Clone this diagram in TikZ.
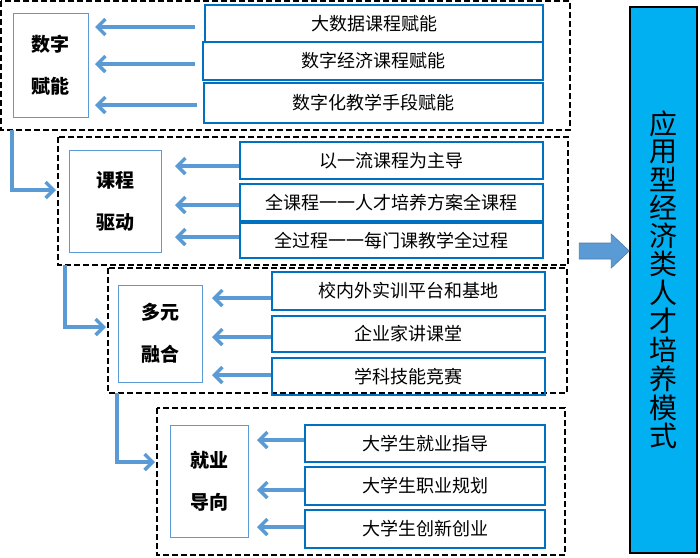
\documentclass[tikz,border=0pt]{standalone}
\usepackage{fontspec}
\setmainfont{Noto Sans CJK SC}
\usetikzlibrary{arrows.meta}
\definecolor{ab}{RGB}{91,155,213}
\definecolor{db}{RGB}{0,112,192}
\definecolor{cy}{RGB}{0,176,240}
\begin{document}
\begin{tikzpicture}[x=1pt,y=-1pt,
 grp/.style={draw,line width=1.3pt,dash pattern=on 6pt off 3pt},
 lab/.style={draw=ab,line width=1pt,font=\fontsize{19}{24}\selectfont\bfseries,align=center},
 itm/.style={draw=db,line width=2pt,font=\fontsize{18}{20}\selectfont},
 arr/.style={draw=ab,line width=3.5pt,-{Straight Barb[length=8pt,width=16pt]}},
 lk/.style={draw=ab,line width=3.5pt,-{Straight Barb[length=8pt,width=16pt]}}]
\useasboundingbox (0,0) rectangle (700,557);
% group 1
\draw[grp] (1,1) rectangle (570,130);
\node[lab,minimum width=75pt,minimum height=104pt] (l1) at (50.5,65) {数字\\[18pt]赋能};
\node[itm,minimum width=338pt,minimum height=37pt] (a1) at (374,23.5) {大数据课程赋能};
\node[itm,minimum width=340pt,minimum height=38pt] (a2) at (373,61) {数字经济课程赋能};
\node[itm,minimum width=339pt,minimum height=40pt] (a3) at (373.5,103) {数字化教学手段赋能};
\coordinate (p1) at (95,27); \coordinate (p2) at (95,64); \coordinate (p3) at (95,105);
\draw[arr] (195,27) -- (p1); \draw[arr] (195,64) -- (p2); \draw[arr] (197,105) -- (p3);
% group 2
\draw[grp] (58,137) rectangle (568,265);
\node[lab,minimum width=92pt,minimum height=102pt] (l2) at (115,201) {课程\\[18pt]驱动};
\node[itm,minimum width=303pt,minimum height=37pt] (b1) at (391.5,160.5) {以一流课程为主导};
\node[itm,minimum width=303pt,minimum height=37pt] (b2) at (391.5,202.5) {全课程一一人才培养方案全课程};
\node[itm,minimum width=303pt,minimum height=35pt] (b3) at (391.5,240.5) {全过程一一每门课教学全过程};
\draw[arr] (b1.west|-0,166) -- (175,166);
\draw[arr] (b2.west|-0,205) -- (175,205);
\draw[arr] (b3.west|-0,237) -- (175,237);
% group 3
\draw[grp] (108,268) rectangle (567,393);
\node[lab,minimum width=84pt,minimum height=97pt] (l3) at (160,333.5) {多元\\[18pt]融合};
\node[itm,minimum width=273pt,minimum height=38pt] (c1) at (408.5,291) {校内外实训平台和基地};
\node[itm,minimum width=273pt,minimum height=36pt] (c2) at (408.5,334) {企业家讲课堂};
\node[itm,minimum width=273pt,minimum height=37pt] (c3) at (408.5,376.5) {学科技能竞赛};
\draw[arr] (c1.west|-0,298) -- (212,298);
\draw[arr] (c2.west|-0,337) -- (212,337);
\draw[arr] (c3.west|-0,375) -- (212,375);
% group 4
\draw[grp] (157,408) rectangle (565,555);
\node[lab,minimum width=78pt,minimum height=112pt] (l4) at (209,481) {就业\\[18pt]导向};
\node[itm,minimum width=240pt,minimum height=37pt] (d1) at (425,443.5) {大学生就业指导};
\node[itm,minimum width=240pt,minimum height=38pt] (d2) at (425,486) {大学生职业规划};
\node[itm,minimum width=240pt,minimum height=38pt] (d3) at (425,529) {大学生创新创业};
\draw[arr] (d1.west|-0,440) -- (257,440);
\draw[arr] (d2.west|-0,490) -- (257,490);
\draw[arr] (d3.west|-0,527) -- (257,527);
% links
\coordinate (g2) at (56,190); \coordinate (g3) at (106,327); \coordinate (g4) at (155,462);
\draw[lk] (12,130) |- (g2);
\draw[lk] (65,265) |- (g3);
\draw[lk] (117,393) |- (g4);
% result
\node[draw,line width=1.5pt,fill=cy,minimum width=67pt,minimum height=546pt,inner sep=0pt] (r) at (663.5,280)
 {\fontsize{28}{32}\selectfont\shortstack{应\\用\\型\\经\\济\\类\\人\\才\\培\\养\\模\\式}};
\coordinate (tip) at (r.west|-0,251);
\fill[ab,draw=ab!80!black,line width=0.6pt] (tip) -- ++(-18,-17) -- ++(0,9) -- ++(-32,0) -- ++(0,16) -- ++(32,0) -- ++(0,9) -- cycle;
\end{tikzpicture}
\end{document}
